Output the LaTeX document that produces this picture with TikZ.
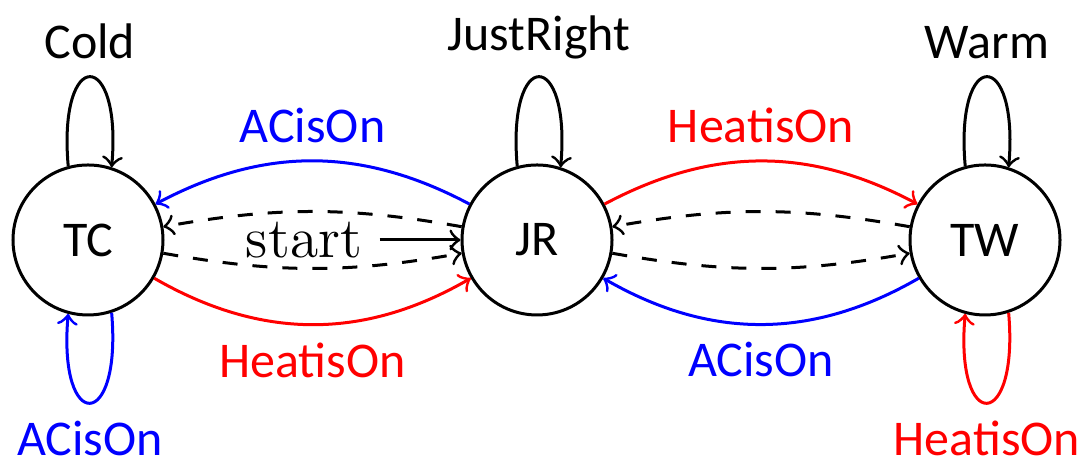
\documentclass[tikz,border=0pt]{standalone}
\usepackage{fontspec}
\newfontfamily\carl{Carlito}
\begin{document}
\begin{tikzpicture}[x=0.2pt,y=0.2pt,
  state/.style={circle,draw,line width=0.6pt,minimum size=30pt,inner sep=0pt,font=\carl},
  lbl/.style={font=\carl},
  tr/.style={->,line width=0.6pt},
  dtr/.style={->,dashed,line width=0.6pt}]
\useasboundingbox (0,0) rectangle (1080,463);
\node[state] (TC) at (88,223) {TC};
\node[state] (JR) at (537,223) {JR};
\node[state] (TW) at (985,223) {TW};
\node[font=\fontsize{11.5}{13}\selectfont] (start) at (304,223) {start};
\draw[tr] (start) -- (JR);
% TC <-> JR
\draw[tr,blue] (JR) to[bend right=28] node[lbl,above] {ACisOn} (TC);
\draw[tr,red] (TC) to[bend right=30] node[lbl,below] {HeatisOn} (JR);
\draw[dtr] (JR) to[bend right=10] (TC);
\draw[dtr] (TC) to[bend right=10] (JR);
% JR <-> TW
\draw[tr,red] (JR) to[bend left=28] node[lbl,above] {HeatisOn} (TW);
\draw[tr,blue] (TW) to[bend left=30] node[lbl,below] {ACisOn} (JR);
\draw[dtr] (TW) to[bend right=10] (JR);
\draw[dtr] (JR) to[bend right=10] (TW);
% loops
\draw[tr] (TC.105) .. controls +(95:24pt) and +(85:24pt) .. (TC.72) node[midway,above,lbl] {Cold};
\draw[tr] (JR.105) .. controls +(95:24pt) and +(85:24pt) .. (JR.72) node[midway,above,lbl] {JustRight};
\draw[tr] (TW.105) .. controls +(95:24pt) and +(85:24pt) .. (TW.72) node[midway,above,lbl] {Warm};
\draw[tr,blue] (TC.-72) .. controls +(-85:24pt) and +(-95:24pt) .. (TC.-105) node[midway,below,lbl] {ACisOn};
\draw[tr,red] (TW.-72) .. controls +(-85:24pt) and +(-95:24pt) .. (TW.-105) node[midway,below,lbl] {HeatisOn};
\end{tikzpicture}
\end{document}
